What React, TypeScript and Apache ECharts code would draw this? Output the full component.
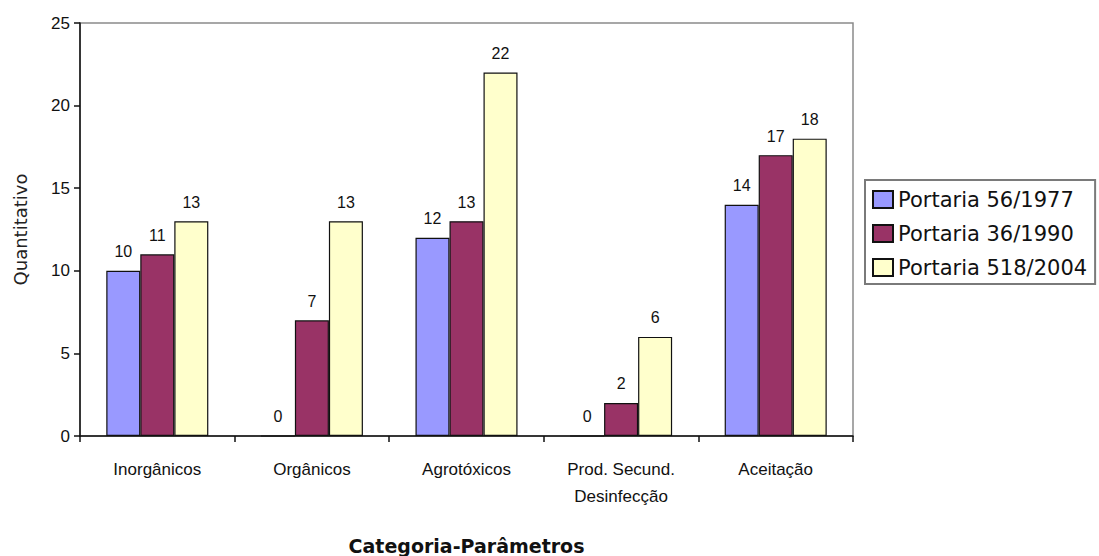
import React, { useEffect, useRef } from "react";
import * as echarts from "echarts";

const categories = ["Inorgânicos", "Orgânicos", "Agrotóxicos", "Prod. Secund.\nDesinfecção", "Aceitação"];
const seriesNames = ["Portaria 56/1977", "Portaria 36/1990", "Portaria 518/2004"];
const portaria1977 = [10, 0, 12, 0, 14];
const portaria1990 = [11, 7, 13, 2, 17];
const portaria2004 = [13, 13, 22, 6, 18];
const seriesColors = ["#9999FF", "#993366", "#FFFFCC"];
const yTicks = { min: 0, max: 25, interval: 5 };

export default function App() {
  const ref = useRef<HTMLDivElement>(null);
  useEffect(() => {
    if (!ref.current) return;
    const chart = echarts.init(ref.current, null, { renderer: "svg" });
    const values = [portaria1977, portaria1990, portaria2004];
    chart.setOption({
      animation: false,
      backgroundColor: "#ffffff",
      textStyle: { fontFamily: "Liberation Sans, Arial, sans-serif", color: "#111" },
      grid: {
        left: 80,
        right: 246,
        top: 23,
        bottom: 120,
        outerBoundsMode: "none",
        containLabel: false,
        show: true,
        borderColor: "#8a8a8a",
        borderWidth: 1.5,
        backgroundColor: "transparent",
      },
      legend: {
        orient: "vertical",
        left: 865,
        top: 180,
        padding: [9, 8, 6, 7],
        itemWidth: 20,
        itemHeight: 17,
        itemGap: 13,
        borderColor: "#7a7a7a",
        borderWidth: 2,
        icon: "rect",
        data: seriesNames,
        textStyle: {
          fontFamily: "DejaVu Sans, Verdana, sans-serif",
          fontSize: 21,
          color: "#111",
        },
      },
      xAxis: {
        type: "category",
        data: categories,
        name: "Categoria-Parâmetros",
        nameLocation: "middle",
        nameGap: 100,
        nameTextStyle: {
          fontFamily: "DejaVu Sans, Verdana, sans-serif",
          fontWeight: "bold",
          fontSize: 19,
          color: "#111",
        },
        axisLine: { lineStyle: { color: "#111", width: 1.5 } },
        axisTick: { show: true, length: 6, lineStyle: { color: "#111", width: 1.5 } },
        axisLabel: {
          fontSize: 17,
          color: "#111",
          margin: 20,
          lineHeight: 27,
          interval: 0,
        },
      },
      yAxis: {
        type: "value",
        min: yTicks.min,
        max: yTicks.max,
        interval: yTicks.interval,
        name: "Quantitativo",
        nameLocation: "middle",
        nameGap: 51,
        nameRotate: 90,
        nameTextStyle: {
          fontFamily: "DejaVu Sans, Verdana, sans-serif",
          fontSize: 18,
          color: "#222",
        },
        splitLine: { show: false },
        axisLine: { show: true, lineStyle: { color: "#111", width: 1.5 } },
        axisTick: { show: true, length: 6, lineStyle: { color: "#111", width: 1.5 } },
        axisLabel: { fontSize: 17, color: "#111", margin: 10 },
      },
      series: seriesNames.map((name, i) => ({
        name,
        type: "bar",
        data: values[i],
        barGap: "0%",
        barCategoryGap: "34%",
        itemStyle: { color: seriesColors[i], borderColor: "#111", borderWidth: 1.2 },
        label: {
          show: true,
          position: "top",
          distance: 11,
          fontSize: 16,
          color: "#111",
        },
      })),
    });
    return () => chart.dispose();
  }, []);
  return <div ref={ref} style={{ width: 1099, height: 556, position: "absolute", left: 0, top: 0 }} />;
}
